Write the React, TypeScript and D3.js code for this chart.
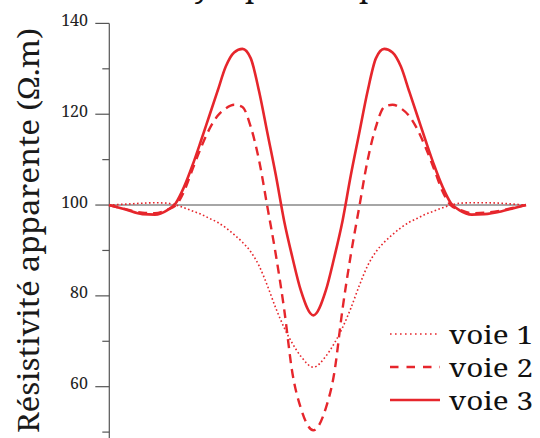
import React from "react";
import * as d3 from "d3";

const positions = [-49,-45,-41,-38,-35,-33,-31,-29,-27,-25,-23,-21,-19,-17,-15,-13,-11,-9,-7,-5,-3,0,3,5,7,9,11,13,15,17,19,21,23,25,27,29,31,33,35,38,41,45,48,51];

const voie1 = [100,100.2,100.4,100.5,100.4,100.0,99.4,98.7,98.0,97.1,96.2,95.0,93.5,91.8,89.7,86.6,82.2,77.3,73.0,69.5,66.7,64.3,66.7,69.5,73.0,77.3,82.2,86.6,89.7,91.8,93.5,95.0,96.2,97.1,98.0,98.7,99.4,100.0,100.4,100.5,100.5,100.4,100.2,100];
const voie2 = [100,99.1,98.3,98.2,99.0,99.9,103.0,107.8,112.5,116.6,119.6,121.3,122.1,121.6,117.2,109.8,99.5,89.1,77.1,62.9,55.3,50.4,55.3,62.9,77.1,89.1,99.5,109.8,117.2,121.6,122.1,121.3,119.6,116.6,112.5,107.8,103.0,99.9,99.0,98.2,98.3,98.8,99.4,100];
const voie3 = [100,99.0,98.0,97.9,98.9,100.4,104.0,108.7,114.0,119.5,125.0,130.5,133.6,134.4,132.3,125.0,115.8,106.6,96.5,88.4,81.2,75.7,81.2,88.4,96.5,106.6,115.8,125.0,132.3,134.4,133.6,130.5,125.0,119.5,114.0,108.7,104.0,100.4,98.9,97.9,98.0,98.6,99.3,100];

const majorTicks = [140, 120, 100, 80, 60];
const minorTicks = [130, 110, 90, 70, 50];
const seriesNames = ["voie 1", "voie 2", "voie 3"];
const yTitle = "Résistivité apparente (Ω.m)";

const RED = "#e6262c";
const SERIF = "'Noto Serif', 'Liberation Serif', serif";
const dashes = ["1.6,2.4", "9,6", null];
const widths = [1.6, 2.4, 2.6];

export default function App() {
  const x = d3.scaleLinear().domain([-49, 51]).range([109, 526]);
  const y = d3.scaleLinear().domain([50, 140]).range([432.1, 23.4]);
  const line = d3
    .line<number>()
    .x((_, i) => x(positions[i]))
    .y((d) => y(d))
    .curve(d3.curveMonotoneX);
  const series = [voie1, voie2, voie3];
  const axisX = 109.3;
  const legendY = [334, 367, 400];

  return (
    <svg
      width={540}
      height={438}
      style={{ position: "absolute", left: 0, top: 0, background: "#fff" }}
    >
      <text y={-3} style={{ fontFamily: SERIF }} fontSize={30} fill="#111">
        <tspan x={194}>y</tspan>
        <tspan x={245}>p</tspan>
        <tspan x={359}>p</tspan>
      </text>
      <line x1={axisX} x2={axisX} y1={y(140)} y2={440} stroke="#555" strokeWidth={1.2} />
      {majorTicks.map((t) => (
        <g key={"M" + t}>
          <line x1={axisX - 14} x2={axisX} y1={y(t)} y2={y(t)} stroke="#555" strokeWidth={1.2} />
          <text
            x={88}
            y={y(t) + 2.5}
            textAnchor="end"
            style={{ fontFamily: SERIF }}
            fontSize={16}
            fill="#222"
          >
            {t}
          </text>
        </g>
      ))}
      {minorTicks.map((t) => (
        <line key={"m" + t} x1={axisX - 7} x2={axisX} y1={y(t)} y2={y(t)} stroke="#555" strokeWidth={1.2} />
      ))}
      <line x1={x(-49)} x2={x(51)} y1={y(100)} y2={y(100)} stroke="#888" strokeWidth={1.5} />
      {series.map((s, i) => (
        <path
          key={i}
          d={line(s) || ""}
          fill="none"
          stroke={RED}
          strokeWidth={widths[i]}
          strokeDasharray={dashes[i] || undefined}
        />
      ))}
      <text
        transform={`translate(39,230.5) rotate(-90)`}
        textAnchor="middle"
        style={{ fontFamily: SERIF }}
        fontSize={28.5}
        textLength={405}
        lengthAdjust="spacingAndGlyphs"
        fill="#1a1a1a"
      >
        {yTitle}
      </text>
      {seriesNames.map((n, i) => (
        <g key={n}>
          <line
            x1={390}
            x2={440}
            y1={legendY[i]}
            y2={legendY[i]}
            stroke={RED}
            strokeWidth={widths[i]}
            strokeDasharray={dashes[i] === "9,6" ? "8.5,8" : dashes[i] === null ? undefined : "1.6,3.4"}
          />
          <text
            x={449}
            y={legendY[i] + 9.5}
            style={{ fontFamily: SERIF }}
            fontSize={26}
            textLength={84}
            lengthAdjust="spacingAndGlyphs"
            fill="#111"
          >
            {n}
          </text>
        </g>
      ))}
    </svg>
  );
}
